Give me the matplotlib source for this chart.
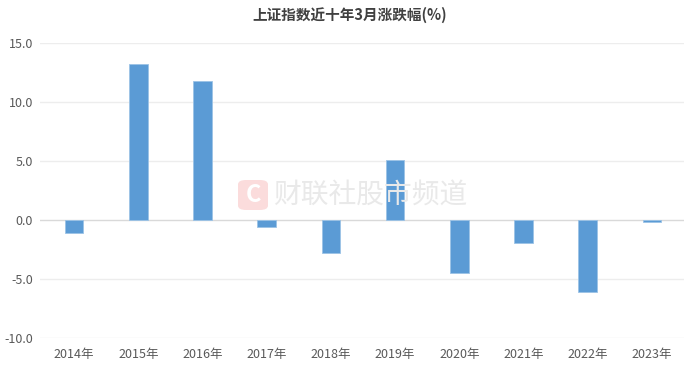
import matplotlib
matplotlib.use("Agg")
import matplotlib.pyplot as plt
from matplotlib.patches import FancyBboxPatch

plt.rcParams['font.family'] = ['Noto Sans CJK SC', 'DejaVu Sans']

# data
years = ["2014年", "2015年", "2016年", "2017年", "2018年",
         "2019年", "2020年", "2021年", "2022年", "2023年"]
change = [-1.12, 13.22, 11.75, -0.59, -2.78, 5.09, -4.51, -1.91, -6.07, -0.21]
yticks = [-10.0, -5.0, 0.0, 5.0, 10.0, 15.0]

W, H = 692, 368
fig = plt.figure(figsize=(W / 100, H / 100), dpi=100)

# axes placed in pixel terms
left, right, top, bottom = 40, 684, 43, 338
ax = fig.add_axes([left / W, 1 - bottom / H, (right - left) / W, (bottom - top) / H])

# faint watermark behind the bars
fig.patches.append(FancyBboxPatch((238 / W, 1 - 210 / H), 30 / W, 30 / H,
                                  boxstyle="round,pad=0.0,rounding_size=0.012",
                                  transform=fig.transFigure, facecolor="#fbdcdc",
                                  edgecolor="none", zorder=0))
fig.text(253 / W, 1 - 195 / H, "C", ha="center", va="center", fontsize=17,
         fontweight="bold", color="white", zorder=0)
fig.text(273 / W, 1 - 195 / H, "财联社股市频道", ha="left", va="center",
         fontsize=20, color="#e9e9e9", zorder=0)
ax.set_facecolor("none")

x = list(range(len(years)))
ax.bar(x, change, width=0.29, color="#5B9BD5", edgecolor="#9cc3e6", linewidth=0.6, zorder=3)

ax.set_ylim(-10, 15)
ax.set_xlim(-0.53, 9.5)
ax.set_yticks(yticks)
ax.set_yticklabels([f"{v:.1f}" for v in yticks])
ax.set_xticks(x)
ax.set_xticklabels(years)

for v in yticks:
    ax.axhline(v, color="#d9d9d9" if v == 0 else "#ededed", linewidth=1, zorder=1)

for s in ax.spines.values():
    s.set_visible(False)
ax.tick_params(axis="both", length=0, labelsize=9, colors="#595959")
ax.tick_params(axis="y", pad=5)
ax.tick_params(axis="x", pad=7)

fig.text(0.505, 1 - 15 / H, "上证指数近十年3月涨跌幅(%)", ha="center", va="center",
         fontsize=10.5, fontweight="bold", color="#404040")

fig.savefig("out.png", dpi=100)
